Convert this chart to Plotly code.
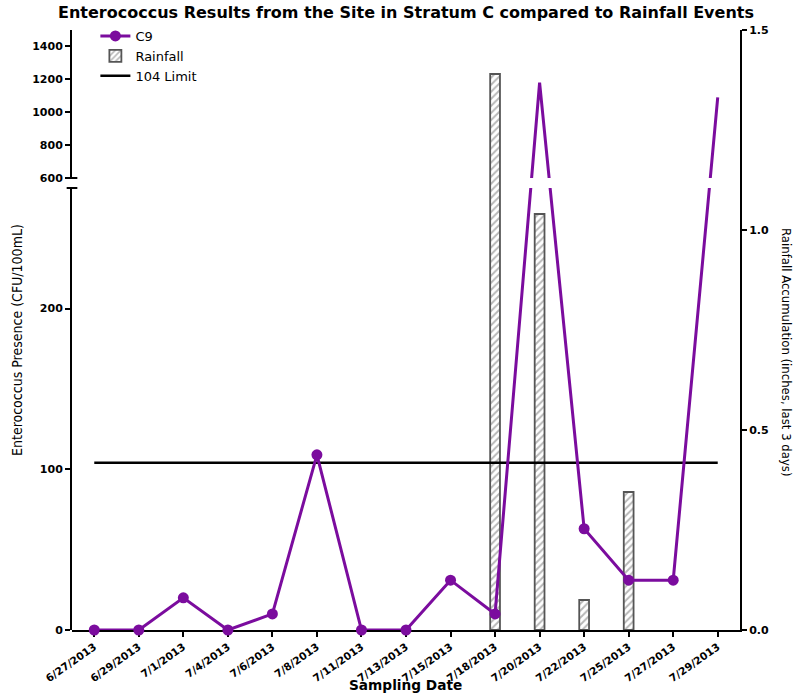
import plotly.graph_objects as go

# Sampling dates (categories)
dates = ["6/27/2013", "6/29/2013", "7/1/2013", "7/4/2013", "7/6/2013",
         "7/8/2013", "7/11/2013", "7/13/2013", "7/15/2013", "7/18/2013",
         "7/20/2013", "7/22/2013", "7/25/2013", "7/27/2013", "7/29/2013"]

# Enterococcus counts at site C9 (CFU/100mL)
c9 = [0, 0, 20, 0, 10, 109, 0, 0, 31, 10, 1180, 63, 31, 31, 1090]

# Rainfall accumulation over the last 3 days (inches)
rainfall = [0, 0, 0, 0, 0, 0, 0, 0, 0, 1.39, 1.04, 0.075, 0.345, 0, 0]

# Regulatory limit
limit_value = 104

# Left-axis tick labels for the two segments of the broken axis
low_ticks = [0, 100, 200]
high_ticks = [600, 800, 1000, 1200, 1400]
rain_ticks = [0.0, 0.5, 1.0, 1.5]

# Broken axis geometry (paper fractions) and ranges
LOW_DOMAIN = (0.0, 0.7367)
LOW_RANGE = (0, 275)
HIGH_DOMAIN = (0.7533, 1.0)
HIGH_RANGE = (600, 1500)

PURPLE = "#7B0C9E"
TICK_FONT = dict(family="DejaVu Sans", size=11, color="black", weight="bold")
NARROW = "DejaVu Sans Condensed, Liberation Sans Narrow, Liberation Sans"


def to_frac(v):
    """Map a count onto the vertical position of the broken axis."""
    if v <= LOW_RANGE[1]:
        return LOW_DOMAIN[0] + (v - LOW_RANGE[0]) / (LOW_RANGE[1] - LOW_RANGE[0]) * (LOW_DOMAIN[1] - LOW_DOMAIN[0])
    return HIGH_DOMAIN[0] + (v - HIGH_RANGE[0]) / (HIGH_RANGE[1] - HIGH_RANGE[0]) * (HIGH_DOMAIN[1] - HIGH_DOMAIN[0])


def in_low(v):
    f = to_frac(v)
    return LOW_RANGE[0] + (f - LOW_DOMAIN[0]) / (LOW_DOMAIN[1] - LOW_DOMAIN[0]) * (LOW_RANGE[1] - LOW_RANGE[0])


def in_high(v):
    f = to_frac(v)
    return HIGH_RANGE[0] + (f - HIGH_DOMAIN[0]) / (HIGH_DOMAIN[1] - HIGH_DOMAIN[0]) * (HIGH_RANGE[1] - HIGH_RANGE[0])


fig = go.Figure()

# Rainfall bars on the right axis
fig.add_trace(go.Bar(
    x=dates, y=[r if r > 0 else None for r in rainfall],
    name="Rainfall", yaxis="y", width=0.22,
    marker=dict(color="white", line=dict(color="#555555", width=1.8),
                pattern=dict(shape="/", fgcolor="#707070", bgcolor="white", size=5, solidity=0.4)),
    legendrank=2,
))

# 104 limit line
fig.add_trace(go.Scatter(
    x=[dates[0], dates[-1]], y=[limit_value, limit_value], yaxis="y2",
    mode="lines", name="104 Limit", line=dict(color="black", width=2.5),
    legendrank=3,
))

# C9 series, lower segment (markers shown for every point)
fig.add_trace(go.Scatter(
    x=dates, y=[in_low(v) for v in c9], yaxis="y2",
    mode="lines+markers", name="C9", cliponaxis=False,
    line=dict(color=PURPLE, width=3),
    marker=dict(color=PURPLE, size=11, symbol="circle"),
    legendrank=1,
))

# C9 series, upper segment
fig.add_trace(go.Scatter(
    x=dates, y=[in_high(v) for v in c9], yaxis="y3",
    mode="lines", name="C9", showlegend=False,
    line=dict(color=PURPLE, width=3),
))

axis_common = dict(showline=True, linecolor="black", linewidth=2, ticks="outside",
                   ticklen=5, tickwidth=2, tickcolor="black", showgrid=False,
                   zeroline=False, tickfont=TICK_FONT, layer="below traces")
x_axis_style = dict(axis_common, tickfont=dict(TICK_FONT, size=10.5))

fig.update_layout(
    width=800, height=698,
    margin=dict(l=72, r=60, t=30, b=68),
    paper_bgcolor="white", plot_bgcolor="rgba(0,0,0,0)",
    title=dict(text="Enterococcus Results from the Site in Stratum C compared to Rainfall Events",
               x=(406 - 72) / 668, xref="paper", xanchor="center", y=1 - 12 / 698, yanchor="middle",
               font=dict(family="DejaVu Sans", size=16, color="black", weight="bold")),
    xaxis=dict(type="category", range=[-0.5, len(dates) - 0.5], anchor="y",
               tickangle=-35, **x_axis_style),
    yaxis=dict(domain=[0, 1], range=[0, 1.5], side="right", anchor="x",
               tickvals=rain_ticks, tickformat=".1f", **axis_common),
    yaxis2=dict(domain=list(LOW_DOMAIN), range=list(LOW_RANGE), side="left", anchor="x",
                tickvals=low_ticks, **axis_common),
    yaxis3=dict(domain=list(HIGH_DOMAIN), range=list(HIGH_RANGE), side="left", anchor="x",
                tickvals=high_ticks, **axis_common),
    barmode="overlay",
    showlegend=True,
    legend=dict(x=0.035, y=1.015, xanchor="left", yanchor="top", bgcolor="rgba(0,0,0,0)",
                font=dict(family="DejaVu Sans", size=13, color="black"),
                tracegroupgap=0, itemsizing="trace"),
)

# Break marks at the ends of the two left-axis segments
for yref, yv in (("y2 domain", 1), ("y3 domain", 0)):
    fig.add_shape(type="line", xref="paper", yref=yref, x0=-0.008, x1=0.008, y0=yv, y1=yv,
                  line=dict(color="black", width=2))

# Axis titles
fig.add_annotation(text="Enterococcus Presence (CFU/100mL)", xref="paper", yref="paper",
                   x=(17 - 72) / 668, y=(630 - 340) / 600, xanchor="center", yanchor="middle",
                   textangle=-90, showarrow=False,
                   font=dict(family=NARROW, size=14, color="black"))
fig.add_annotation(text="Rainfall Accumulation (inches, last 3 days)", xref="paper", yref="paper",
                   x=(787 - 72) / 668, y=(630 - 352) / 600, xanchor="center", yanchor="middle",
                   textangle=90, showarrow=False,
                   font=dict(family=NARROW, size=13, color="black"))
fig.add_annotation(text="Sampling Date", xref="paper", yref="paper",
                   x=(405 - 72) / 668, y=(630 - 685) / 600, xanchor="center", yanchor="middle",
                   showarrow=False,
                   font=dict(family="DejaVu Sans", size=13.7, color="black", weight="bold"))

fig.write_html("out.html")
